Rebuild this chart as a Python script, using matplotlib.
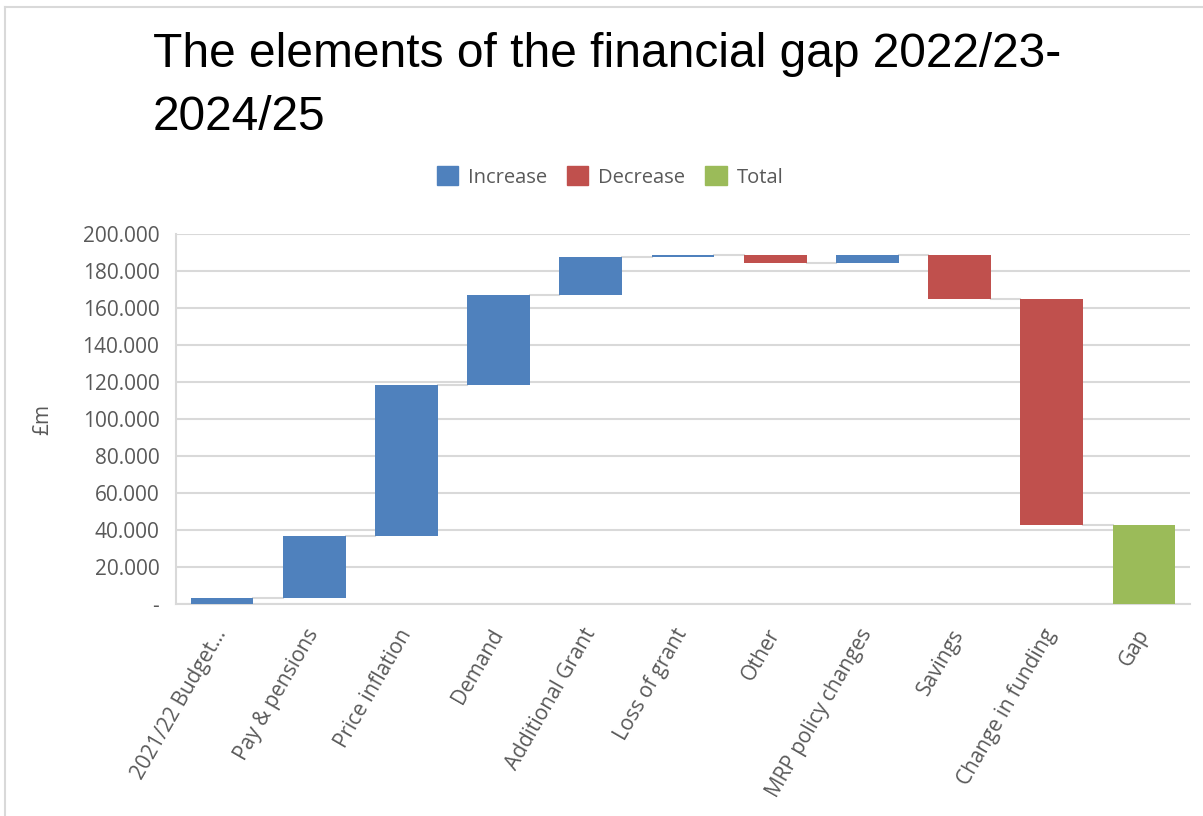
import numpy as np
import matplotlib
matplotlib.use("Agg")
import matplotlib.pyplot as plt
from matplotlib.patches import Patch
from matplotlib.lines import Line2D

# data (£m)
categories = ["2021/22 Budget…", "Pay & pensions", "Price inflation", "Demand",
              "Additional Grant", "Loss of grant", "Other", "MRP policy changes",
              "Savings", "Change in funding", "Gap"]
changes = [3.2, 33.6, 81.7, 48.3, 20.9, 0.8, -4.2, 4.2, -23.6, -122.2]
y_ticks = [0, 20, 40, 60, 80, 100, 120, 140, 160, 180, 200]
y_tick_labels = ["-", "20.000", "40.000", "60.000", "80.000", "100.000", "120.000",
                 "140.000", "160.000", "180.000", "200.000"]

blue = "#4F81BD"
red = "#C0504D"
green = "#9BBB59"
grey_text = "#595959"

ends = np.cumsum(changes)
starts = ends - np.array(changes)
gap_total = ends[-1]

fig = plt.figure(figsize=(12.03, 8.16), dpi=100)
ax = fig.add_axes([176 / 1203, 1 - 604 / 816, (1190 - 176) / 1203, (604 - 234) / 816])

x = np.arange(len(categories))
width = 0.68
for i, d in enumerate(changes):
    col = blue if d >= 0 else red
    ax.bar(x[i], abs(d), bottom=min(starts[i], ends[i]), width=width, color=col, zorder=3)
ax.bar(x[-1], gap_total, width=width, color=green, zorder=3)

# connector lines between bars
for i in range(len(changes)):
    ax.plot([x[i] + width / 2, x[i + 1] - width / 2], [ends[i], ends[i]],
            color="#d9d9d9", lw=1.5, zorder=2)

ax.set_xlim(-0.5, len(categories) - 0.5)
ax.set_ylim(0, 200)
ax.set_yticks(y_ticks)
ax.set_yticklabels(y_tick_labels, fontsize=15, color=grey_text, family="Open Sans")
ax.set_xticks(x)
ax.set_xticklabels(categories, rotation=60, ha="right", va="center", rotation_mode="anchor",
                   fontsize=15, color=grey_text, family="Open Sans")
ax.tick_params(axis="y", length=0, pad=12)
ax.tick_params(axis="x", length=0, pad=19)
ax.grid(axis="y", color="#d9d9d9", lw=1.5, zorder=0)
for s in ["top", "right"]:
    ax.spines[s].set_visible(False)
for s in ["left", "bottom"]:
    ax.spines[s].set_color("#d9d9d9")
    ax.spines[s].set_linewidth(1.5)

ax.set_ylabel("£m", fontsize=15, color=grey_text, family="Open Sans", labelpad=21)

fig.text(153 / 1203, 1 - 32 / 816, "The elements of the financial gap 2022/23-\n2024/25",
         fontsize=34.5, family="Liberation Sans", va="top", ha="left", linespacing=1.5)

handles = [Patch(color=blue), Patch(color=red), Patch(color=green)]
fig.legend(handles, ["Increase", "Decrease", "Total"], loc="center",
           bbox_to_anchor=(610 / 1203, 1 - 177 / 816), ncol=3, frameon=False,
           handlelength=1.05, handleheight=1.05, handletextpad=0.5, columnspacing=1.0,
           prop={"family": "Open Sans", "size": 14.5}, labelcolor=grey_text)

# chart border
fig.add_artist(Line2D([5 / 1203, 1], [1 - 7 / 816, 1 - 7 / 816], color="#d9d9d9", lw=1.5))
fig.add_artist(Line2D([5 / 1203, 5 / 1203], [0, 1 - 7 / 816], color="#d9d9d9", lw=1.5))

fig.savefig("out.png", dpi=100)
